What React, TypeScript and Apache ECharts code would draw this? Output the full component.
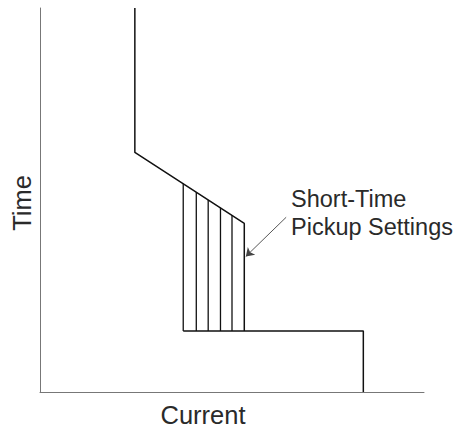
import React, { useEffect, useRef } from "react";
import * as echarts from "echarts";

// Time-current curve (values in % of axis range)
const curveUpper: [number, number][] = [[24.7, 100], [24.7, 62.4], [53.2, 43.9], [53.2, 15.9]];
const curveLower: [number, number][] = [[37.3, 15.9], [84.2, 15.9], [84.2, 0]];
const hatchX = [37.3, 40.7, 43.8, 47.0, 50.0];
const hatchTop = [54.2, 52.0, 50.0, 48.0, 46.0];
const hatchBottom = 15.9;
const arrowFrom: [number, number] = [64.1, 45.5];
const arrowTo: [number, number] = [53.6, 35.3];
const annotationLines = ["Short-Time", "Pickup Settings"];
const xName = "Current";
const yName = "Time";

const FONT = "'Liberation Sans', Arial, sans-serif";

export default function App() {
  const ref = useRef<HTMLDivElement>(null);
  useEffect(() => {
    if (!ref.current) return;
    const chart = echarts.init(ref.current, undefined, { renderer: "svg" });
    const lineStyle = { color: "#111", width: 1.5 };
    const hatchSeries = hatchX.map((x, i) => ({
      type: "line",
      data: [[x, hatchTop[i]], [x, hatchBottom]],
      symbol: "none",
      silent: true,
      lineStyle: { color: "#111", width: 1.3 },
    }));
    chart.setOption({
      animation: false,
      grid: { left: 40, right: 34, top: 8, bottom: 38 },
      xAxis: {
        type: "value",
        min: 0,
        max: 100,
        axisLine: { show: true, lineStyle: { color: "#777", width: 1 } },
        axisTick: { show: false },
        axisLabel: { show: false },
        splitLine: { show: false },
      },
      yAxis: {
        type: "value",
        min: 0,
        max: 100,
        axisLine: { show: true, lineStyle: { color: "#777", width: 1 } },
        axisTick: { show: false },
        axisLabel: { show: false },
        splitLine: { show: false },
      },
      series: [
        { type: "line", data: curveUpper, symbol: "none", lineStyle, silent: true },
        { type: "line", data: curveLower, symbol: "none", lineStyle, silent: true },
        ...hatchSeries,
        {
          type: "lines",
          coordinateSystem: "cartesian2d",
          symbol: ["none", "arrow"],
          symbolSize: [0, 8],
          lineStyle: { color: "#444", width: 0.9, curveness: 0, opacity: 1 },
          itemStyle: { color: "#111" },
          data: [{ coords: [arrowFrom, arrowTo] }],
          silent: true,
        },
      ],
      graphic: [
        {
          type: "text",
          style: {
            x: 291,
            y: 199,
            text: annotationLines[0],
            font: `23.5px ${FONT}`,
            fill: "#2a2a2a",
            verticalAlign: "middle",
            align: "left",
          },
        },
        {
          type: "text",
          style: {
            x: 291,
            y: 227,
            text: annotationLines[1],
            font: `23.5px ${FONT}`,
            fill: "#2a2a2a",
            verticalAlign: "middle",
            align: "left",
          },
        },
        {
          type: "text",
          style: {
            x: 203,
            y: 415,
            text: xName,
            font: `25.5px ${FONT}`,
            fill: "#2a2a2a",
            verticalAlign: "middle",
            align: "center",
          },
        },
        {
          type: "text",
          x: 22,
          y: 203,
          rotation: Math.PI / 2,
          style: {
            x: 0,
            y: 0,
            text: yName,
            font: `25.5px ${FONT}`,
            fill: "#2a2a2a",
            verticalAlign: "middle",
            align: "center",
          },
        },
      ],
    });
    return () => chart.dispose();
  }, []);
  return <div ref={ref} style={{ width: 458, height: 430, position: "absolute", left: 0, top: 0 }} />;
}
